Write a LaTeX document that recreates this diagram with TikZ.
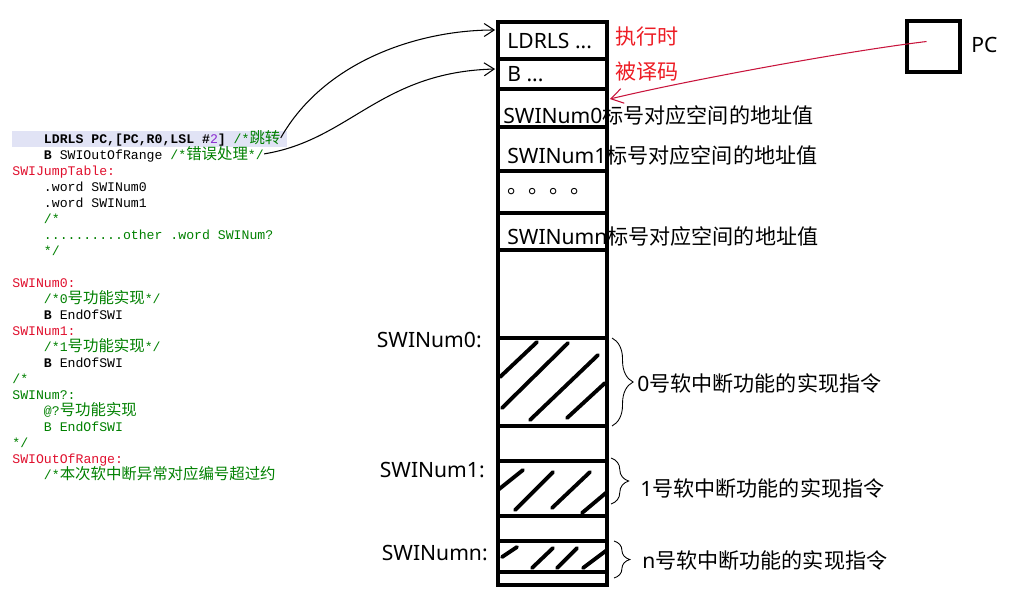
\documentclass[tikz,border=0pt]{standalone}
\usepackage{fontspec}
\setmainfont{Noto Sans}
\setmonofont{Liberation Mono}
\newfontfamily\zhfont{Noto Sans CJK SC}
\newfontfamily\codezh[Scale=1.17]{Noto Sans CJK SC}
\usetikzlibrary{arrows.meta,positioning,calc,decorations.pathreplacing}
\definecolor{CodeRed}{HTML}{E0102E}
\definecolor{CodeGreen}{HTML}{008000}
\definecolor{CodePurple}{HTML}{8A2BD0}
\definecolor{CodeHL}{HTML}{E1E3F5}
\definecolor{AnnRed}{HTML}{ED1C24}
\definecolor{PcRed}{HTML}{C8143C}
\newcommand\memfont{\fontsize{12}{14}\selectfont}
\newcommand\codefont{\ttfamily\fontsize{7.5}{9}\selectfont}
\newcommand\zh[1]{{\codezh #1}}
\newcommand\cn[1]{{\zhfont #1}}
\newcommand\cmt[1]{\textcolor{CodeGreen}{#1}}
\newcommand\lbl[1]{\textcolor{CodeRed}{#1}}
\tikzset{
  codeline/.style={anchor=base west, inner sep=0pt, font=\codefont},
  memtext/.style={anchor=west, inner sep=0pt, font=\memfont},
  redtext/.style={memtext, text=AnnRed},
  sidelabel/.style={anchor=east, inner sep=0pt, font=\memfont},
  memcol/.style={draw, line width=2.2pt, minimum width=2.18cm, minimum height=11.26cm, inner sep=0pt},
  memline/.style={line width=2.2pt},
  hatch/.style={line width=2.2pt, line cap=round},
  pcbox/.style={draw, line width=2.2pt, minimum width=1.06cm, minimum height=1.02cm, inner sep=0pt},
  swibrace/.style={decorate, decoration={brace, amplitude=#1}, line width=0.5pt},
  jump/.style={-{Straight Barb[length=2mm,width=2.6mm]}, line width=0.6pt},
  pcjump/.style={-{Straight Barb[length=2.4mm,width=3mm]}, line width=0.6pt, PcRed},
}
\begin{document}
\begin{tikzpicture}[x=0.02cm,y=-0.02cm]
  \useasboundingbox (0,0) rectangle (1017,599);

  % Source listing
  \fill[CodeHL] (12,131) rectangle (287,147);
  \node[codeline] (cl1) at (43.6,143) {\textbf{LDRLS PC,[PC,R0,LSL \#}\textcolor{CodePurple}{2}\textbf{]} \cmt{/*\zh{跳转}}};
  \node[codeline] (cl2) at (43.6,159) {\textbf{B} SWIOutOfRange \cmt{/*\zh{错误处理}*/}};
  \node[codeline] (cl3) at (12,175) {\lbl{SWIJumpTable:}};
  \node[codeline] (cl4) at (43.6,191) {.word SWINum0};
  \node[codeline] (cl5) at (43.6,207) {.word SWINum1};
  \node[codeline] (cl6) at (43.6,223) {\cmt{/*}};
  \node[codeline] (cl7) at (43.6,239) {\cmt{..........other .word SWINum?}};
  \node[codeline] (cl8) at (43.6,255) {\cmt{*/}};
  \node[codeline] (cl9) at (12,287) {\lbl{SWINum0:}};
  \node[codeline] (cl10) at (43.6,303) {\cmt{/*0\zh{号功能实现}*/}};
  \node[codeline] (cl11) at (43.6,319) {\textbf{B} EndOfSWI};
  \node[codeline] (cl12) at (12,335) {\lbl{SWINum1:}};
  \node[codeline] (cl13) at (43.6,351) {\cmt{/*1\zh{号功能实现}*/}};
  \node[codeline] (cl14) at (43.6,367) {\textbf{B} EndOfSWI};
  \node[codeline] (cl15) at (12,383) {\cmt{/*}};
  \node[codeline] (cl16) at (12,399) {\cmt{SWINum?:}};
  \node[codeline] (cl17) at (43.6,415) {\cmt{@?\zh{号功能实现}}};
  \node[codeline] (cl18) at (43.6,431) {\cmt{B EndOfSWI}};
  \node[codeline] (cl19) at (12,447) {\cmt{*/}};
  \node[codeline] (cl20) at (12,463) {\lbl{SWIOutOfRange:}};
  \node[codeline] (cl21) at (43.6,479) {\cmt{/*\zh{本次软中断异常对应编号超过约}}};

  % Memory column
  \node[memcol] (col) at (552.5,303.5) {};
  \foreach \y in {59,89,127,171,213,250,338,426,461,516,541,572}
    \draw[memline] (col.west |- 0,\y) -- (col.east |- 0,\y);
  \foreach \a/\b in {{500,377}/{537,342},{502,408}/{568,343},{530,420}/{598,355},{567,418}/{605,383},
                     {498,490}/{523,470},{515,510}/{553,472},{552,508}/{590,472},{582,513}/{607,492},
                     {502,557}/{517,547},{532,568}/{553,548},{557,568}/{577,548},{583,568}/{607,550}}
    \draw[hatch] (\a) -- (\b);

  \node[memtext] (cellLdr) at (507,41) {LDRLS ...};
  \node[memtext] (cellB) at (507,74) {B ...};
  \node[memtext] (cellN0) at (503,115) {SWINum0\cn{标号对应空间的地址值}};
  \node[memtext] (cellN1) at (507,155) {SWINum1\cn{标号对应空间的地址值}};
  \node[memtext] (cellDots) at (507,192) {\cn{。。。。}};
  \node[memtext] (cellNn) at (507,236) {SWINumn\cn{标号对应空间的地址值}};

  \node[redtext] (exec) at (615,37) {\cn{执行时}};
  \node[redtext] (decode) at (615,72) {\cn{被译码}};

  \node[sidelabel] (side0) at (482,340) {SWINum0:};
  \node[sidelabel] (side1) at (485,470) {SWINum1:};
  \node[sidelabel] (siden) at (488,553) {SWINumn:};

  % Braces and routine labels
  \draw[swibrace=12pt] (612,338) -- (612,426);
  \draw[swibrace=10pt] (611,458) -- (611,504);
  \draw[swibrace=9pt] (614,541) -- (614,578);
  \node[memtext] (impl0) at (637,383) {0\cn{号软中断功能的实现指令}};
  \node[memtext] (impl1) at (640,488) {1\cn{号软中断功能的实现指令}};
  \node[memtext] (impln) at (642,560) {n\cn{号软中断功能的实现指令}};

  % Program counter
  \node[pcbox] (pc) at (933.5,46.5) {};
  \node[memtext] (pclabel) at (971,45) {PC};
  \coordinate (pcsrc) at ($(pc.center)+(-7,-5)$);
  \coordinate (pctip) at ($(col.east |- cellN0.west)+(1,-16)$);
  \draw[pcjump] (pcsrc) .. controls (840,52) and (680,82) .. (pctip);

  % Jumps from the listing into the column
  \draw[jump] (cl1.east) .. controls (325,60) and (420,30) .. ($(col.west |- cellLdr.west)+(-1,-11)$);
  \draw[jump] (cl2.east) .. controls (350,140) and (380,72) .. ($(col.west |- cellB.west)+(-1,-5)$);
\end{tikzpicture}
\end{document}
